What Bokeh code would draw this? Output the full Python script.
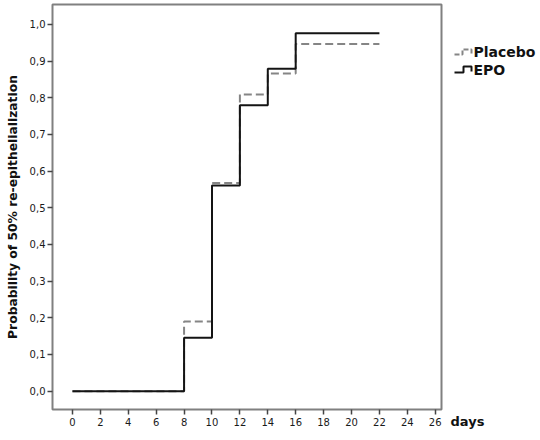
from bokeh.plotting import figure
from bokeh.layouts import row
from bokeh.models import Range1d, FixedTicker, CustomJSTickFormatter
from bokeh.core.properties import value
from bokeh.embed import file_html
from bokeh.resources import INLINE

days = [0, 8, 10, 12, 14, 16, 22]
placebo = [0.0, 0.19, 0.568, 0.809, 0.866, 0.947, 0.947]
epo = [0.0, 0.146, 0.561, 0.78, 0.879, 0.976, 0.976]
x_ticks = list(range(0, 27, 2))
y_ticks = [0.0, 0.1, 0.2, 0.3, 0.4, 0.5, 0.6, 0.7, 0.8, 0.9, 1.0]
series_names = ["Placebo", "EPO"]
x_label = "days"
y_label = "Probability of 50% re-epithelialization"

FONT = "DejaVu Sans"
H = 436
PLACEBO_COLOR = "#858585"
EPO_COLOR = "#141414"

p = figure(width=443, height=H, output_backend="svg", toolbar_location=None,
           x_range=Range1d(-1.43, 26.45), y_range=Range1d(-0.050, 1.0545),
           min_border_left=52, min_border_right=2, min_border_top=4, min_border_bottom=H - 409)
p.frame_align = False
p.grid.visible = False
p.outline_line_color = "#808080"
p.outline_line_width = 2
p.background_fill_color = "white"
p.border_fill_color = "white"

p.step(days, placebo, mode="after", line_color=PLACEBO_COLOR, line_width=2, line_dash="8 4")
p.step(days, epo, mode="after", line_color=EPO_COLOR, line_width=2)

for ax in (p.xaxis[0], p.yaxis[0]):
    ax.axis_line_color = None
    ax.major_tick_line_color = "#444444"
    ax.major_tick_line_width = 1.5
    ax.major_tick_out = 5
    ax.major_tick_in = 0
    ax.minor_tick_line_color = None
    ax.major_label_text_font = FONT
    ax.major_label_text_font_size = "10px"
    ax.major_label_text_color = "#1a1a1a"

p.xaxis.major_label_standoff = 3
p.yaxis.major_label_standoff = 2
p.xaxis.ticker = FixedTicker(ticks=x_ticks)
p.yaxis.ticker = FixedTicker(ticks=y_ticks)
p.yaxis.formatter = CustomJSTickFormatter(code="return tick.toFixed(1).replace('.', ',');")
p.yaxis.axis_label = y_label
p.yaxis.axis_label_text_font = FONT
p.yaxis.axis_label_text_font_style = "bold"
p.yaxis.axis_label_text_font_size = "12.3px"
p.yaxis.axis_label_text_color = "#111111"
p.yaxis.axis_label_standoff = 7

# side panel holding the legend and the x-axis name
p2 = figure(width=96, height=H, output_backend="svg", toolbar_location=None,
            x_range=Range1d(443, 539), y_range=Range1d(H, 0),
            min_border_left=0, min_border_right=0, min_border_top=0, min_border_bottom=0)
p2.frame_align = False
p2.axis.visible = False
p2.grid.visible = False
p2.outline_line_color = None
p2.background_fill_color = "white"
p2.border_fill_color = "white"

# legend icons (pulse-shaped like the step lines)
p2.line([454, 462, 462, 471, 471], [54, 54, 49, 49, 54], line_color=PLACEBO_COLOR,
        line_width=2, line_dash="5 2")
p2.line([454, 463, 463, 471, 471], [72, 72, 66, 66, 71], line_color=EPO_COLOR, line_width=2)
p2.text(x=[473, 473], y=[51.5, 69.5], text=series_names, text_font=value(FONT),
        text_font_size="14px", text_font_style="bold", text_color="#111111",
        text_baseline="middle", text_align="left")
p2.text(x=[450], y=[421], text=[x_label], text_font=value(FONT),
        text_font_size="13px", text_font_style="bold", text_color="#111111",
        text_baseline="middle", text_align="left")

layout = row(p, p2, spacing=0)
open("out.html", "w").write(file_html(layout, INLINE))
